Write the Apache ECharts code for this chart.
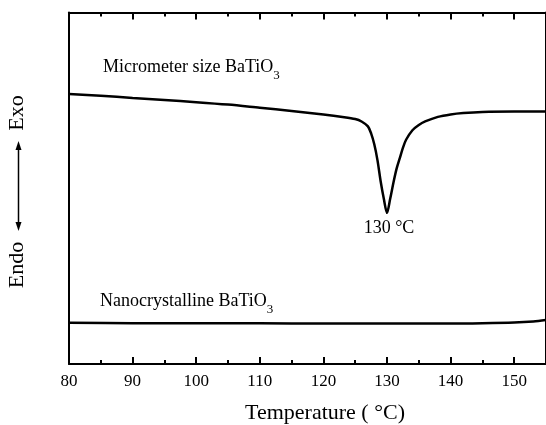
<!DOCTYPE html>
<html>
<head>
<meta charset="utf-8">
<script src="https://cdn.jsdelivr.net/npm/echarts@6/dist/echarts.min.js"></script>
<style>
html,body{margin:0;padding:0;background:#fff;}
#chart{width:546px;height:425px;}
</style>
</head>
<body>
<div id="chart"></div>
<script>
// Temperature (°C) and heat-flow (arbitrary units) readings
const microTemp = [80, 85, 90, 95, 100, 105, 110, 115, 120, 123, 125, 126, 127, 127.5, 128, 128.5, 129, 129.5, 130, 130.5, 131, 131.5, 132, 132.5, 133, 134, 135, 136, 138, 140, 142, 145, 150, 155];
const microVal  = [76.8, 76.3, 75.7, 75.1, 74.5, 73.8, 72.9, 72.0, 71.0, 70.3, 69.7, 69.0, 67.6, 65.6, 62.5, 58.0, 52.0, 47.0, 43.0, 47.0, 51.5, 55.5, 58.5, 61.5, 63.8, 66.5, 68.0, 69.0, 70.3, 71.0, 71.4, 71.7, 71.8, 71.8];
const nanoTemp = [80, 90, 100, 110, 120, 130, 140, 145, 150, 153, 155];
const nanoVal  = [11.7, 11.6, 11.6, 11.6, 11.5, 11.5, 11.5, 11.6, 11.8, 12.1, 12.5];
const xTicks = [80, 90, 100, 110, 120, 130, 140, 150];

const FONT = '"Liberation Serif", "Times New Roman", serif';
const chart = echarts.init(document.getElementById('chart'), null, {renderer: 'canvas'});

function xAx(pos, interval, len, showLine, showLabel) {
  return {
    type: 'value', min: 80, max: 155, interval: interval, position: pos,
    axisLine: {show: showLine, onZero: false, lineStyle: {color: '#000', width: 2}},
    axisTick: {show: true, inside: true, length: len, lineStyle: {color: '#000', width: 2}},
    axisLabel: {
      show: showLabel, margin: 9, color: '#000', fontFamily: FONT, fontSize: 17,
      showMaxLabel: false,
      formatter: v => (xTicks.indexOf(v) >= 0 ? String(v) : '')
    },
    splitLine: {show: false}
  };
}

const option = {
  animation: false,
  backgroundColor: '#fff',
  grid: {left: 69, top: 12.5, width: 477, height: 351.5, containLabel: false},
  xAxis: [
    xAx('bottom', 10, 7, true, true),
    xAx('bottom', 5, 4, false, false),
    xAx('top', 10, 7, true, false),
    xAx('top', 5, 4, false, false)
  ],
  yAxis: [
    {type: 'value', min: 0, max: 100, position: 'left',
     axisLine: {show: true, onZero: false, lineStyle: {color: '#000', width: 2}},
     axisTick: {show: false}, axisLabel: {show: false}, splitLine: {show: false}},
    {type: 'value', min: 0, max: 100, position: 'right',
     axisLine: {show: true, onZero: false, lineStyle: {color: '#000', width: 2}},
     axisTick: {show: false}, axisLabel: {show: false}, splitLine: {show: false}}
  ],
  series: [
    {type: 'line', xAxisIndex: 0, yAxisIndex: 0, smooth: 0.3, symbol: 'none',
     lineStyle: {color: '#000', width: 2.5},
     data: microTemp.map((t, i) => [t, microVal[i]])},
    {type: 'line', xAxisIndex: 0, yAxisIndex: 0, smooth: 0.3, symbol: 'none',
     lineStyle: {color: '#000', width: 2.5},
     data: nanoTemp.map((t, i) => [t, nanoVal[i]])}
  ],
  graphic: [
    {type: 'text', left: 103, top: 58,
     style: {text: '{a|Micrometer size BaTiO}{s|3}', font: '18px ' + FONT, fill: '#000',
       rich: {a: {fontFamily: FONT, fontSize: 18, lineHeight: 24, verticalAlign: 'top'},
              s: {fontFamily: FONT, fontSize: 13, lineHeight: 24, verticalAlign: 'bottom'}}}},
    {type: 'text', left: 100, top: 292,
     style: {text: '{a|Nanocrystalline BaTiO}{s|3}', font: '18px ' + FONT, fill: '#000',
       rich: {a: {fontFamily: FONT, fontSize: 18, lineHeight: 24, verticalAlign: 'top'},
              s: {fontFamily: FONT, fontSize: 13, lineHeight: 24, verticalAlign: 'bottom'}}}},
    {type: 'text', x: 389, y: 228,
     style: {text: '130 °C', font: '18px ' + FONT, fill: '#000', align: 'center', verticalAlign: 'middle'}},
    {type: 'text', x: 325, y: 413,
     style: {text: 'Temperature ( °C)', font: '22px ' + FONT, fill: '#000', align: 'center', verticalAlign: 'middle'}},
    {type: 'text', x: 17, y: 113, rotation: Math.PI / 2,
     style: {text: 'Exo', font: '22px ' + FONT, fill: '#000', align: 'center', verticalAlign: 'middle'}},
    {type: 'text', x: 17, y: 265, rotation: Math.PI / 2,
     style: {text: 'Endo', font: '22px ' + FONT, fill: '#000', align: 'center', verticalAlign: 'middle'}},
    {type: 'line', shape: {x1: 18.5, y1: 146, x2: 18.5, y2: 226}, style: {stroke: '#000', lineWidth: 1.5}},
    {type: 'polygon', shape: {points: [[18.5, 141], [15.5, 150], [21.5, 150]]}, style: {fill: '#000'}},
    {type: 'polygon', shape: {points: [[18.5, 231], [15.5, 222], [21.5, 222]]}, style: {fill: '#000'}}
  ]
};
chart.setOption(option);
</script>
</body>
</html>
